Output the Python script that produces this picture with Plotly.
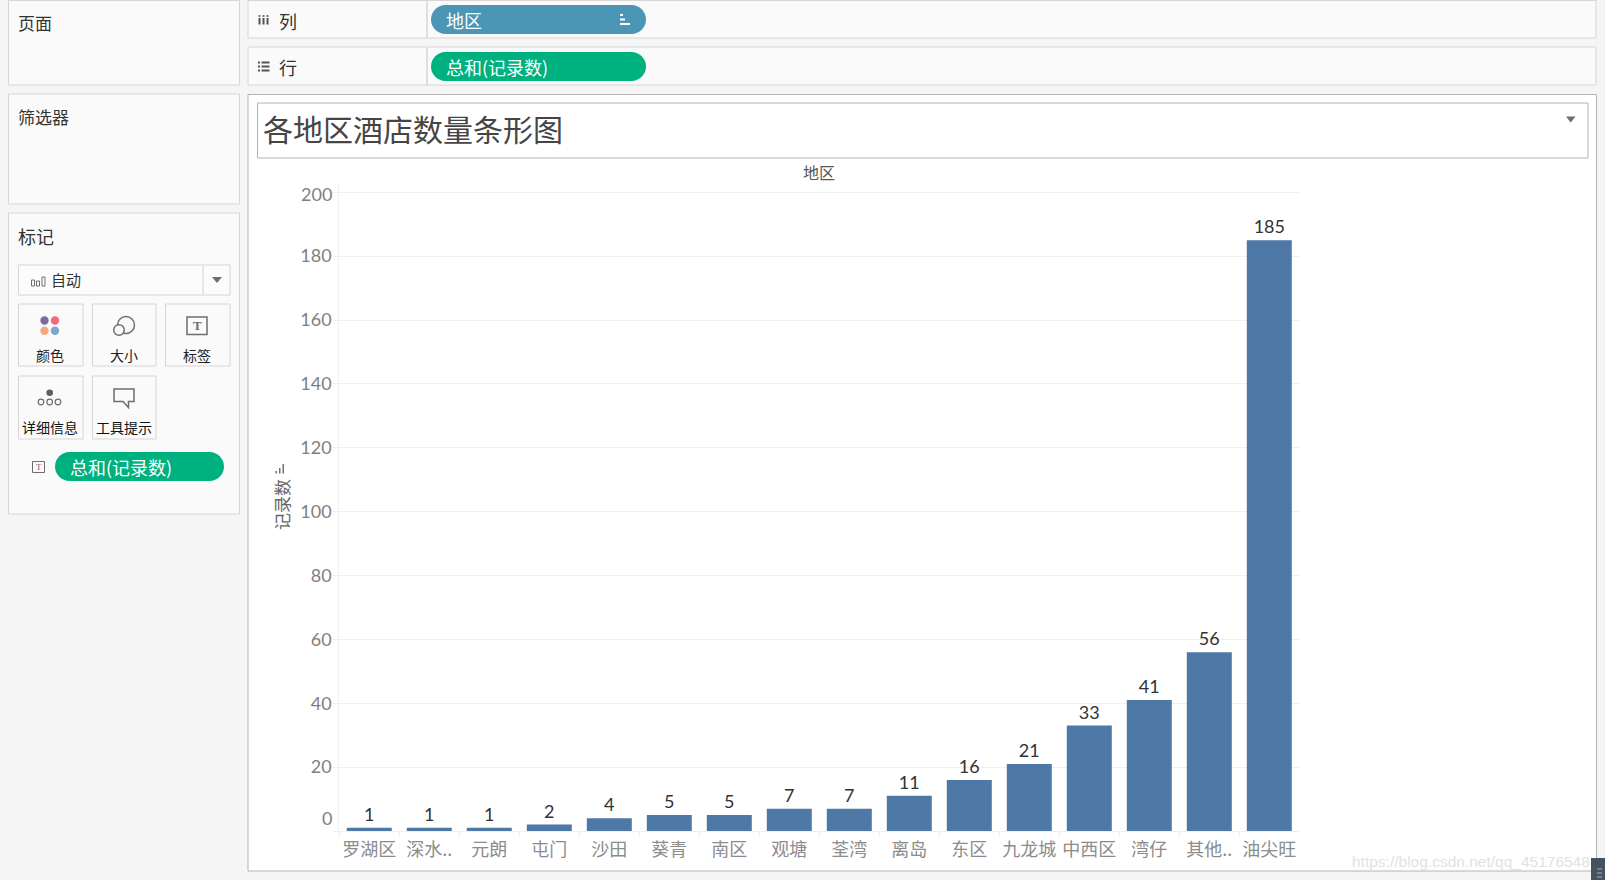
import plotly.graph_objects as go

# Data
regions = ['罗湖区', '深水..', '元朗', '屯门', '沙田', '葵青', '南区', '观塘', '荃湾', '离岛',
           '东区', '九龙城', '中西区', '湾仔', '其他..', '油尖旺']
hotel_counts = [1, 1, 1, 2, 4, 5, 5, 7, 7, 11, 16, 21, 33, 41, 56, 185]
y_ticks = [0, 20, 40, 60, 80, 100, 120, 140, 160, 180, 200]
y_tick_labels = ['', '20', '40', '60', '80', '100', '120', '140', '160', '180', '']

W = 1605
H = 880
CJK = 'Noto Sans CJK SC'
NUM = 'Lato'
background_color = '#F5F5F5'
panel_color = '#FAFAFA'
panel_line = '#D6D6D6'
main_line = '#B4B4B4'
grid_color = '#F0F0F0'
bar_color = '#4E79A7'
pill_blue = '#4A96B4'
pill_green = '#00B180'
icon_color = '#6E6E6E'


def px(x):
    return x / W


def py(y):
    return 1 - y / H


shapes = []
notes = []


def rect(x0, y0, x1, y1, fill=None, line=None, width=1):
    shapes.append(dict(type='rect', xref='paper', yref='paper', layer='below',
                       x0=px(x0), y0=py(y0), x1=px(x1), y1=py(y1),
                       fillcolor=fill or 'rgba(0,0,0,0)',
                       line=dict(color=line or 'rgba(0,0,0,0)', width=width if line else 0)))


def circle(cx, cy, r, fill=None, line=None, width=1.5):
    shapes.append(dict(type='circle', xref='paper', yref='paper', layer='below',
                       x0=px(cx - r), y0=py(cy - r), x1=px(cx + r), y1=py(cy + r),
                       fillcolor=fill or 'rgba(0,0,0,0)',
                       line=dict(color=line or 'rgba(0,0,0,0)', width=width if line else 0)))


def path(points, fill=None, line=None, width=1.5):
    d = 'M' + ' L'.join(f'{px(a):.5f},{py(b):.5f}' for a, b in points) + ' Z'
    shapes.append(dict(type='path', xref='paper', yref='paper', layer='below', path=d,
                       fillcolor=fill or 'rgba(0,0,0,0)',
                       line=dict(color=line or 'rgba(0,0,0,0)', width=width if line else 0)))


def pill(x0, y0, x1, y1, color):
    # rounded ends done with curves, plotly paths have no arcs
    r = (y1 - y0) / 2
    k = r * 0.45
    d = f'M{px(x0 + r):.5f},{py(y0):.5f} L{px(x1 - r):.5f},{py(y0):.5f} '
    d += f'C{px(x1 - k):.5f},{py(y0):.5f} {px(x1):.5f},{py(y0 + k):.5f} {px(x1):.5f},{py(y0 + r):.5f} '
    d += f'C{px(x1):.5f},{py(y1 - k):.5f} {px(x1 - k):.5f},{py(y1):.5f} {px(x1 - r):.5f},{py(y1):.5f} '
    d += f'L{px(x0 + r):.5f},{py(y1):.5f} '
    d += f'C{px(x0 + k):.5f},{py(y1):.5f} {px(x0):.5f},{py(y1 - k):.5f} {px(x0):.5f},{py(y0 + r):.5f} '
    d += f'C{px(x0):.5f},{py(y0 + k):.5f} {px(x0 + k):.5f},{py(y0):.5f} {px(x0 + r):.5f},{py(y0):.5f} Z'
    shapes.append(dict(type='path', xref='paper', yref='paper', layer='below', path=d,
                       fillcolor=color, line=dict(width=0)))


def label(x, y, text, size=16, color='#333333', anchor='left', font=CJK, angle=0):
    notes.append(dict(xref='paper', yref='paper', x=px(x), y=py(y), text=text, showarrow=False,
                      xanchor=anchor, yanchor='middle', textangle=angle,
                      font=dict(family=font, size=size, color=color)))


# Left side cards
rect(8.5, 0.5, 239.5, 85, panel_color, panel_line)
rect(8.5, 94, 239.5, 204, panel_color, panel_line)
rect(8.5, 213, 239.5, 514, panel_color, panel_line)
label(16, 22, '页面', 17)
label(16, 116, '筛选器', 17)
label(16, 236, '标记', 18)

# Mark type dropdown
rect(18.5, 265, 230, 295, '#FCFCFC', panel_line)
rect(203, 265, 203, 295, None, '#E2E2E2', 1)
for bx, top in [(33, 280), (38, 281), (43.5, 277)]:
    rect(bx - 1.5, top, bx + 1.5, 286, None, icon_color, 1)
label(49, 280, '自动', 15)
path([(212, 277), (222, 277), (217, 283)], icon_color)

# Mark buttons
for x0, x1 in [(18.5, 83), (92.5, 156), (165.5, 230)]:
    rect(x0, 304, x1, 366, panel_color, panel_line)
for x0, x1 in [(18.5, 83), (92.5, 156)]:
    rect(x0, 376, x1, 439, panel_color, panel_line)
label(50, 355, '颜色', 14, '#222222', 'center')
label(124, 355, '大小', 14, '#222222', 'center')
label(197, 355, '标签', 14, '#222222', 'center')
label(50, 427, '详细信息', 14, '#111111', 'center')
label(124, 427, '工具提示', 14, '#111111', 'center')
circle(44.5, 320.5, 4.2, '#7F6A9C')
circle(55, 320.5, 4.2, '#F4687C')
circle(44.5, 330.7, 4.2, '#F3A97B')
circle(55, 330.7, 4.2, '#7EA6D2')
circle(126, 325, 8.5, None, icon_color)
circle(119, 330, 5.3, panel_color, icon_color)
rect(187, 317, 207, 334.5, None, icon_color, 1.5)
label(197, 325.5, '<b>T</b>', 13, icon_color, 'center', 'Liberation Serif')
circle(49.7, 392.7, 3.3, '#5E5E5E')
for cx in (41, 49.7, 58):
    circle(cx, 402, 2.8, None, icon_color, 1.2)
path([(114, 389), (134, 389), (134, 401.5), (128.5, 401.5), (128.5, 407.5), (123, 401.5), (114, 401.5)],
     None, icon_color)

# Label pill on marks card
rect(32.5, 461.5, 44.5, 472.5, None, icon_color, 1)
label(38.5, 467, 'T', 9, icon_color, 'center', 'Liberation Serif')
pill(55, 452, 224, 481, pill_green)
label(68, 466.5, '总和(记录数)', 18, '#FFFFFF')

# Column and row shelves
rect(248, 0.5, 1596, 38, panel_color, panel_line)
rect(248, 47, 1596, 85, panel_color, panel_line)
rect(427, 0.5, 427, 38, None, panel_line)
rect(427, 47, 427, 85, None, panel_line)
for bx in (259.5, 263.5, 267.5):
    rect(bx - 1, 18, bx + 1, 24.5, '#555555')
    rect(bx - 1, 15.2, bx + 1, 16.8, '#555555')
for by in (62.5, 66.5, 70.5):
    rect(258, by - 1, 260, by + 1, '#555555')
    rect(261.5, by - 1, 269.5, by + 1, '#555555')
label(277, 20.5, '列', 18)
label(277, 66.5, '行', 18)
pill(431, 5, 646, 34, pill_blue)
pill(431, 52, 646, 81, pill_green)
label(444, 20, '地区', 18, '#FFFFFF')
label(444, 66.5, '总和(记录数)', 18, '#FFFFFF')
rect(620, 14, 623, 16, '#FFFFFF')
rect(620, 18.5, 625, 20.5, '#FFFFFF')
rect(620, 23, 630, 25, '#FFFFFF')

# Main view with its title box
rect(248, 94.5, 1596.5, 871, '#FFFFFF', main_line)
rect(257.5, 103, 1588, 158, '#FFFFFF', main_line)
label(261, 128, '各地区酒店数量条形图', 30, '#454545')
path([(1566, 116.5), (1575.5, 116.5), (1570.7, 122.5)], icon_color)

# Axis captions
label(819, 172, '地区', 16, '#555555', 'center')
label(281, 505, '记录数', 17, '#666666', 'center', CJK, -90)
rect(275.5, 471, 277, 473.5, icon_color)
rect(279, 468, 280.5, 473.5, icon_color)
rect(282.5, 464, 284, 473.5, icon_color)

# End labels of the value axis sit inside the pane
notes.append(dict(xref='paper', yref='y', x=px(333.5), y=200, text='200', showarrow=False,
                  xanchor='right', yanchor='middle', yshift=-2,
                  font=dict(family=NUM, size=18, color='#7F7F7F')))
notes.append(dict(xref='paper', yref='y', x=px(333.5), y=0, text='0', showarrow=False,
                  xanchor='right', yanchor='middle', yshift=13,
                  font=dict(family=NUM, size=18, color='#7F7F7F')))

# Watermark and the corner handle of the screenshot
label(1350, 861.5, 'https://blog.csdn.net/qq_45176548', 15.5, '#E2E2E2', 'left', 'Liberation Sans')
rect(1591, 858, 1605, 880, '#46535F')
for by in (869, 873, 877):
    rect(1597, by - 0.6, 1602, by + 0.6, '#9AA3AB')

fig = go.Figure(go.Bar(
    x=regions,
    y=hotel_counts,
    text=hotel_counts,
    textposition='outside',
    cliponaxis=False,
    textfont=dict(family=NUM, size=18, color='#333333'),
    marker=dict(color=bar_color, line=dict(width=0)),
))

fig.update_layout(
    width=W,
    height=H,
    autosize=False,
    margin=dict(l=0, r=0, t=0, b=0),
    paper_bgcolor=background_color,
    plot_bgcolor='rgba(0,0,0,0)',
    bargap=0.25,
    showlegend=False,
    shapes=shapes,
    annotations=notes,
    xaxis=dict(
        domain=[px(339.3), px(1299.3)],
        type='category',
        tickson='boundaries',
        ticks='outside',
        ticklen=5,
        tickcolor=grid_color,
        showgrid=False,
        showline=True,
        linecolor=grid_color,
        tickfont=dict(family=CJK, size=18, color='#8C8C8C'),
        tickangle=0,
        ticklabelstandoff=2,
        automargin=False,
    ),
    yaxis=dict(
        domain=[py(831), py(184)],
        range=[0, 202.6],
        tickvals=y_ticks,
        ticktext=y_tick_labels,
        ticks='outside',
        ticklen=5,
        tickcolor=grid_color,
        gridcolor=grid_color,
        zeroline=False,
        showline=True,
        linecolor=grid_color,
        tickfont=dict(family=NUM, size=18, color='#7F7F7F'),
        ticklabelstandoff=-2,
        automargin=False,
    ),
)

fig.write_html("out.html", config={'displayModeBar': False},
               post_script="document.body.style.margin='0';document.body.style.overflow='hidden';")
